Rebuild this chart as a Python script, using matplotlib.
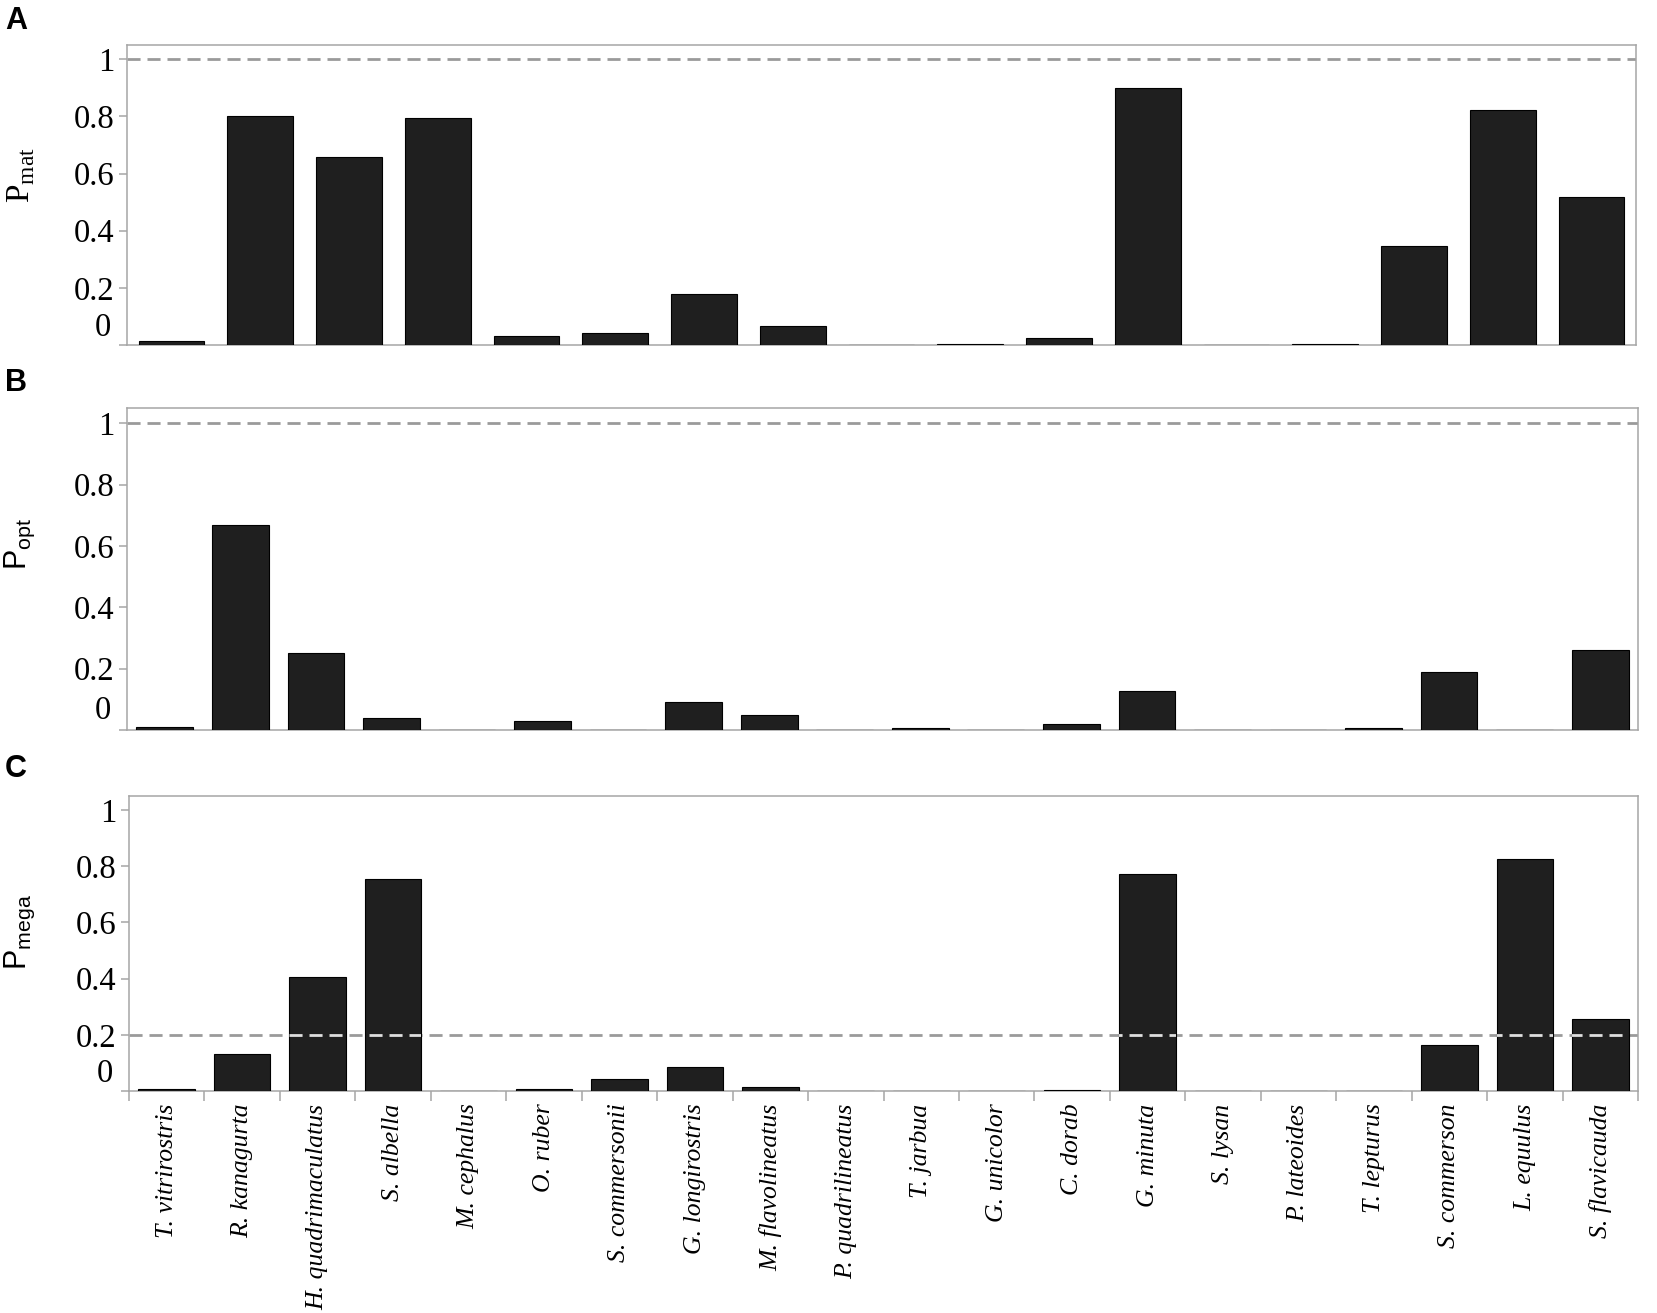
import matplotlib
matplotlib.use("Agg")
import matplotlib.pyplot as plt
from matplotlib.path import Path
import numpy as np

# species shown on the shared x axis of panels B and C
species = ["T. vitrirostris", "R. kanagurta", "H. quadrimaculatus", "S. albella",
           "M. cephalus", "O. ruber", "S. commersonii", "G. longirostris",
           "M. flavolineatus", "P. quadrilineatus", "T. jarbua", "G. unicolor",
           "C. dorab", "G. minuta", "S. lysan", "P. lateoides", "T. lepturus",
           "S. commerson", "L. equulus", "S. flavicauda"]

# panel A has only 17 species (no labels in the figure)
species_mat = ["T. vitrirostris", "R. kanagurta", "H. quadrimaculatus", "S. albella",
               "O. ruber", "S. commersonii", "G. longirostris", "M. flavolineatus",
               "P. quadrilineatus", "T. jarbua", "C. dorab", "G. minuta",
               "S. lysan", "T. lepturus", "S. commerson", "L. equulus", "S. flavicauda"]

p_mat = [0.015, 0.80, 0.658, 0.793, 0.031, 0.043, 0.177, 0.066, 0.0, 0.004,
         0.023, 0.898, 0.0, 0.004, 0.346, 0.823, 0.517]

p_opt = [0.01, 0.669, 0.251, 0.04, 0.0, 0.03, 0.0, 0.09, 0.05, 0.0,
         0.005, 0.0, 0.02, 0.128, 0.0, 0.0, 0.005, 0.19, 0.0, 0.26]

p_mega = [0.006, 0.133, 0.406, 0.755, 0.0, 0.006, 0.044, 0.085, 0.013, 0.0,
          0.0, 0.0, 0.002, 0.773, 0.0, 0.0, 0.0, 0.164, 0.826, 0.258]

ref_lines = {"A": 1.0, "B": 1.0, "C": 0.2}

W, H = 1657, 1313
fig = plt.figure(figsize=(W / 100, H / 100), dpi=100)

SERIF = "Liberation Serif"
SANS = "Liberation Sans"
GRAY = "#a6a6a6"
BAR = "#1f1f1f"
DASH = (4.7, 2.5)


def frac(left, top, right, bottom):
    return [left / W, 1 - bottom / H, (right - left) / W, (bottom - top) / H]


def style_axis(ax, n, ref, bars):
    ax.set_xlim(-0.5, n - 0.5)
    ax.set_ylim(0, 1.05)
    for s in ax.spines.values():
        s.set_color(GRAY)
        s.set_linewidth(1.1)
    ax.set_yticks([0, 0.2, 0.4, 0.6, 0.8, 1.0])
    ax.set_yticklabels(["", "0.2", "0.4", "0.6", "0.8", "1"], fontfamily=SERIF, fontsize=23.5)
    ax.tick_params(axis="y", color=GRAY, length=6, width=1.1, pad=3)
    # the zero label sits a little above the baseline in the original
    ax.text(-0.0105, 0.062, "0", transform=ax.get_yaxis_transform(), ha="right",
            va="center", fontfamily=SERIF, fontsize=23.5)
    ax.axhline(ref, color="#9a9a9a", lw=2.0, dashes=DASH, zorder=2)
    # where the dashes cross a bar they show up light
    rects = [b.get_path().transformed(b.get_patch_transform()) for b in bars]
    over = ax.axhline(ref, color="#dedede", lw=2.0, dashes=DASH, zorder=5)
    over.set_clip_path(Path.make_compound_path(*rects), ax.transData)


# panel A
axA = fig.add_axes(frac(127, 45, 1636, 345))
xa = np.arange(len(species_mat))
barsA = axA.bar(xa, p_mat, width=0.74, color=BAR, edgecolor="black", linewidth=0.8, zorder=3)
style_axis(axA, len(species_mat), ref_lines["A"], barsA)
axA.set_xticks([])

# panel B
axB = fig.add_axes(frac(127, 408, 1638, 730))
x = np.arange(len(species))
barsB = axB.bar(x, p_opt, width=0.75, color=BAR, edgecolor="black", linewidth=0.8, zorder=3)
style_axis(axB, len(species), ref_lines["B"], barsB)
axB.set_xticks([])

# panel C
axC = fig.add_axes(frac(129, 796, 1638, 1091))
barsC = axC.bar(x, p_mega, width=0.75, color=BAR, edgecolor="black", linewidth=0.8, zorder=3)
style_axis(axC, len(species), ref_lines["C"], barsC)
axC.set_xticks(x)
axC.set_xticklabels(species, rotation=90, fontfamily=SERIF, fontstyle="italic",
                    fontsize=18.5, va="top")
axC.set_xticks(np.arange(len(species) + 1) - 0.5, minor=True)
axC.tick_params(axis="x", which="major", length=0, pad=9)
axC.tick_params(axis="x", which="minor", length=7, color=GRAY, width=1.1)

# y labels
fig.text(21 / W, 1 - 175 / H, r"P$_{\mathregular{mat}}$", rotation=90, ha="center",
         va="center", fontfamily=SERIF, fontsize=24)
fig.text(20 / W, 1 - 544 / H, r"P$_{\mathregular{opt}}$", rotation=90, ha="center",
         va="center", fontfamily=SANS, fontsize=22)
fig.text(20 / W, 1 - 932 / H, r"P$_{\mathregular{mega}}$", rotation=90, ha="center",
         va="center", fontfamily=SANS, fontsize=22)

# panel letters
for letter, yy in [("A", 21), ("B", 383), ("C", 769)]:
    fig.text(5 / W, 1 - yy / H, letter, ha="left", va="center", fontfamily=SANS,
             fontweight="bold", fontsize=22)

fig.savefig("out.png", dpi=100, facecolor="white")
